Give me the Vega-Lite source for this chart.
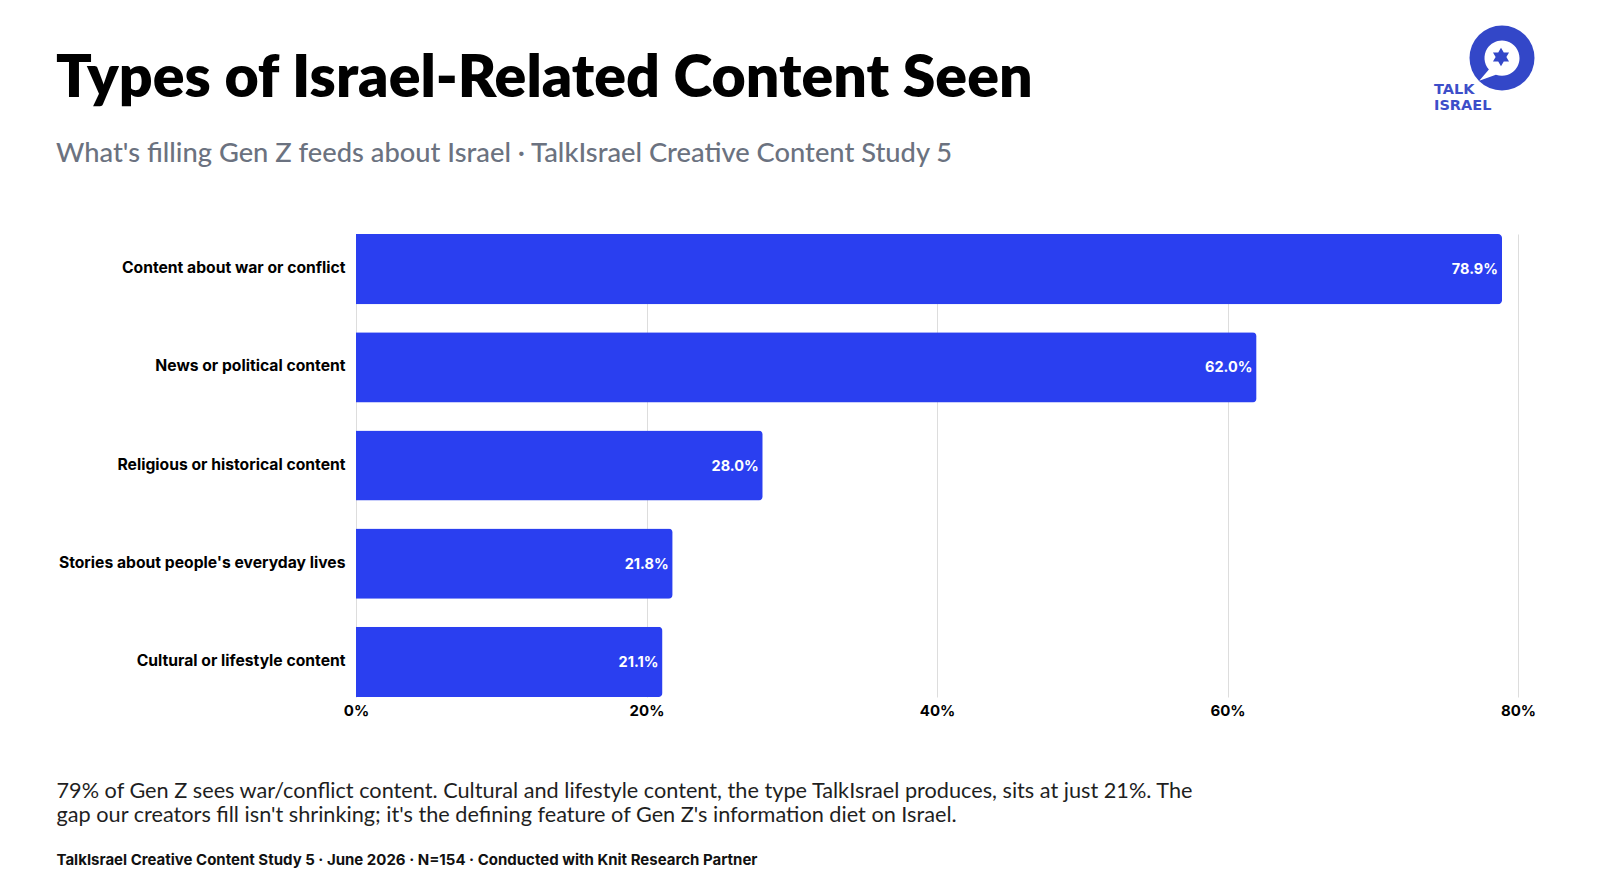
{
"$schema":"https://vega.github.io/schema/vega-lite/v6.json",
"width":1162,"height":463,
"autosize":{"type":"none"},
"padding":{"left":356,"top":234,"right":82,"bottom":186},
"background":"white",
"title":{"text":"Types of Israel-Related Content Seen","subtitle":"What's filling Gen Z feeds about Israel · TalkIsrael Creative Content Study 5","frame":"group","anchor":"start","dx":-300,"offset":-142,"font":"Lato","fontSize":59,"fontWeight":800,"color":"#000000","subtitleFont":"Lato","subtitleFontSize":27.3,"subtitleFontWeight":500,"subtitleColor":"#6B7280","subtitlePadding":31},
"data":{"values":[
{"category":"Content about war or conflict","share":78.9,"label":"78.9%"},
{"category":"News or political content","share":62.0,"label":"62.0%"},
{"category":"Religious or historical content","share":28.0,"label":"28.0%"},
{"category":"Stories about people's everyday lives","share":21.8,"label":"21.8%"},
{"category":"Cultural or lifestyle content","share":21.1,"label":"21.1%"}
]},
"layer":[
{"mark":{"type":"bar","color":"#2A3FF0","cornerRadiusEnd":4},
"encoding":{
"y":{"field":"category","type":"nominal","sort":null,"scale":{"paddingInner":0.285,"paddingOuter":0},
"axis":{"title":null,"ticks":false,"domain":false,"grid":false,"labelFont":"Inter","labelFontSize":15.7,"labelFontWeight":700,"labelColor":"#000000","labelPadding":11,"labelOffset":-1,"labelLimit":320}},
"x":{"field":"share","type":"quantitative","scale":{"domain":[0,80],"nice":false},
"axis":{"orient":"bottom","values":[0,20,40,60,80],"labelExpr":"datum.value + '%'","grid":true,"gridColor":"#DDDDDD","gridWidth":1,"domain":false,"ticks":false,"labelFlush":false,"labelFont":"Inter","labelFontSize":15,"labelFontWeight":700,"labelColor":"#000000","labelPadding":6,
"title":["79% of Gen Z sees war/conflict content. Cultural and lifestyle content, the type TalkIsrael produces, sits at just 21%. The","gap our creators fill isn't shrinking; it's the defining feature of Gen Z's information diet on Israel."],
"titleFont":"Lato","titleFontSize":21.7,"titleFontWeight":400,"titleColor":"#1F1F1F","titleAlign":"left","titleAnchor":"start","titleBaseline":"alphabetic","titleLineHeight":24.5,"titleX":-300,"titleY":100}}}},
{"mark":{"type":"text","align":"right","dx":-4,"dy":1,"color":"#FFFFFF","font":"Inter","fontSize":14.5,"fontWeight":700},
"encoding":{"text":{"field":"label","type":"nominal"},
"y":{"field":"category","type":"nominal","sort":null},
"x":{"field":"share","type":"quantitative","axis":{"orient":"bottom","grid":false,"domain":false,"ticks":false,"labels":false,
"title":"TalkIsrael Creative Content Study 5 · June 2026 · N=154 · Conducted with Knit Research Partner",
"titleFont":"Inter","titleFontSize":15,"titleFontWeight":700,"titleColor":"#111111","titleAlign":"left","titleAnchor":"start","titleBaseline":"alphabetic","titleX":-300,"titleY":167}}}},
{"data":{"values":[{"logo":"Talk Israel"}]},
"layer":[
{"mark":{"type":"point","filled":true,"shape":"circle","size":4225,"color":"#3347C8","opacity":1,"x":1146,"y":-176}},
{"mark":{"type":"point","filled":true,"shape":"M1,0A1,1,0,1,0,-0.75,0.66L-1.3,1.3L-0.35,0.95A1,1,0,0,0,1,0Z","size":1225,"color":"#FFFFFF","opacity":1,"x":1146,"y":-176}},
{"mark":{"type":"point","filled":true,"shape":"M0,-1L0.87,0.5L-0.87,0.5ZM0,1L-0.87,-0.5L0.87,-0.5Z","size":340,"color":"#3347C8","opacity":1,"x":1145,"y":-177}},
{"mark":{"type":"text","text":"TALK","font":"DejaVu Sans","fontSize":14.5,"fontWeight":700,"color":"#3D4EC9","align":"left","baseline":"alphabetic","x":1078,"y":-140}},
{"mark":{"type":"text","text":"ISRAEL","font":"DejaVu Sans","fontSize":14.5,"fontWeight":700,"color":"#3D4EC9","align":"left","baseline":"alphabetic","x":1078,"y":-124}}
]}
],
"resolve":{"axis":{"x":"independent"}},
"config":{"view":{"stroke":null}}
}
